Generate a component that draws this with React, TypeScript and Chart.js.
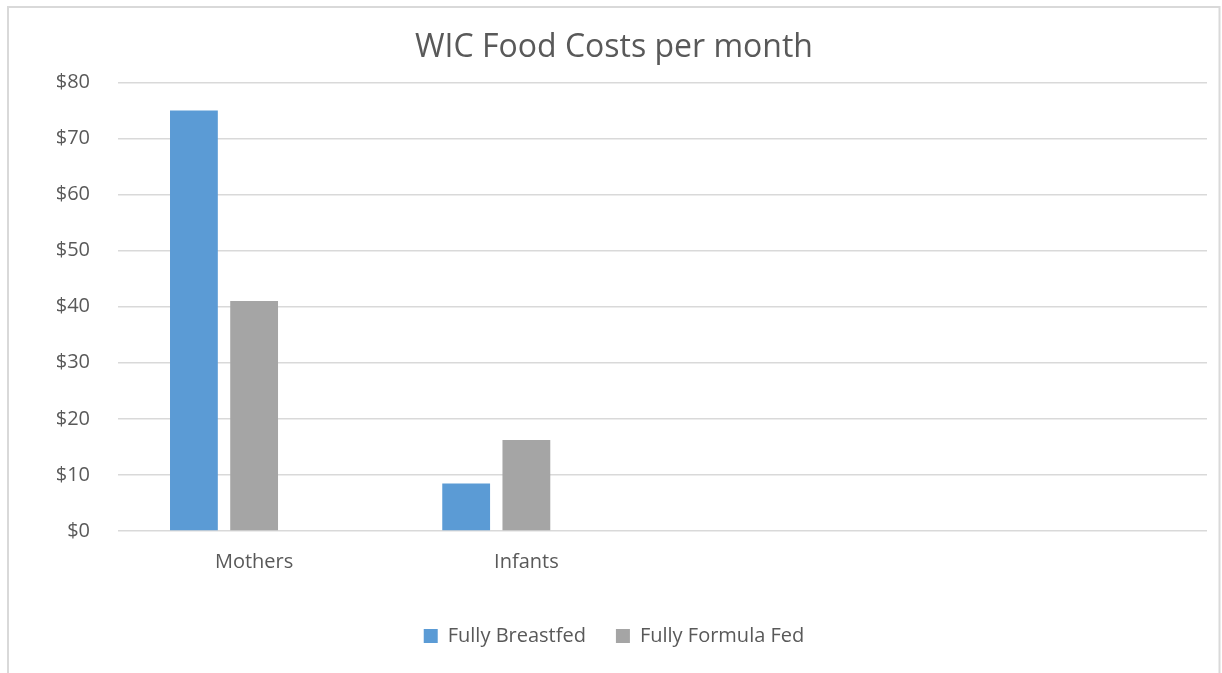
import React, { useEffect, useRef } from "react";
import { Chart, registerables } from "chart.js";

Chart.register(...registerables);

const categories = ["Mothers", "Infants", "", ""];
const fullyBreastfed = [75, 8.45, null, null];
const fullyFormulaFed = [41, 16.25, null, null];
const series3 = [null, null, null, null];
const yTicks = [0, 10, 20, 30, 40, 50, 60, 70, 80];

const FONT = "'Open Sans', Lato, sans-serif";
const TEXT = "#595959";

const framePlugin = {
  id: "frame",
  beforeDraw(chart: any) {
    const ctx = chart.ctx;
    ctx.save();
    ctx.fillStyle = "#ffffff";
    ctx.fillRect(0, 0, chart.width, chart.height);
    ctx.strokeStyle = "#d9d9d9";
    ctx.lineWidth = 2;
    ctx.beginPath();
    ctx.moveTo(8, chart.height + 5);
    ctx.lineTo(8, 7);
    ctx.lineTo(1219.5, 7);
    ctx.lineTo(1219.5, chart.height + 5);
    ctx.stroke();
    ctx.restore();
  },
};

export default function App() {
  const ref = useRef<HTMLCanvasElement>(null);
  useEffect(() => {
    if (!ref.current) return;
    const chart = new Chart(ref.current, {
      type: "bar",
      data: {
        labels: categories,
        datasets: [
          { label: "Fully Breastfed", data: fullyBreastfed, backgroundColor: "#5B9BD5" },
          { label: "Fully Formula Fed", data: fullyFormulaFed, backgroundColor: "#A5A5A5" },
          { label: "Series3", data: series3, backgroundColor: "#FFC000" },
        ],
      },
      plugins: [framePlugin],
      options: {
        animation: false,
        responsive: false,
        events: [],
        datasets: { bar: { categoryPercentage: 0.6635, barPercentage: 0.794 } },
        layout: { padding: { left: 6, right: 0, top: 0, bottom: 17 } },
        plugins: {
          tooltip: { enabled: false },
          title: {
            display: true,
            text: "WIC Food Costs per month",
            color: TEXT,
            font: { family: FONT, size: 32, weight: "normal", lineHeight: 1.2 },
            padding: { top: 29, bottom: 15 },
          },
          legend: {
            position: "bottom",
            labels: {
              filter: (item: any) => item.datasetIndex < 2,
              color: TEXT,
              font: { family: FONT, size: 20 },
              boxWidth: 14,
              boxHeight: 14,
              padding: 30,
            },
          },
        },
        scales: {
          x: {
            grid: { display: false, drawTicks: false },
            border: { display: false },
            ticks: { color: TEXT, font: { family: FONT, size: 20 }, padding: 19, maxRotation: 0 },
            afterFit: (axis: any) => { axis.height = 65; },
          },
          y: {
            min: 0,
            max: 80,
            afterBuildTicks: (axis: any) => { axis.ticks = yTicks.map((v) => ({ value: v })); },
            grid: { color: "#d9d9d9", lineWidth: 1.5, drawTicks: false },
            border: { display: false },
            ticks: {
              color: TEXT,
              font: { family: FONT, size: 20 },
              padding: 28,
              callback: (v: any) => "$" + v,
            },
            afterFit: (axis: any) => { axis.width = 112; },
          },
          y2: {
            position: "right",
            display: true,
            grid: { display: false, drawTicks: false },
            border: { display: false },
            ticks: { display: false },
            afterFit: (axis: any) => { axis.width = 15; },
          },
        },
      },
    });
    return () => chart.destroy();
  }, []);
  return (
    <div style={{ position: "absolute", left: 0, top: 0, width: 1222, height: 673 }}>
      <canvas ref={ref} width={1222} height={673} style={{ width: 1222, height: 673, display: "block" }} />
    </div>
  );
}
